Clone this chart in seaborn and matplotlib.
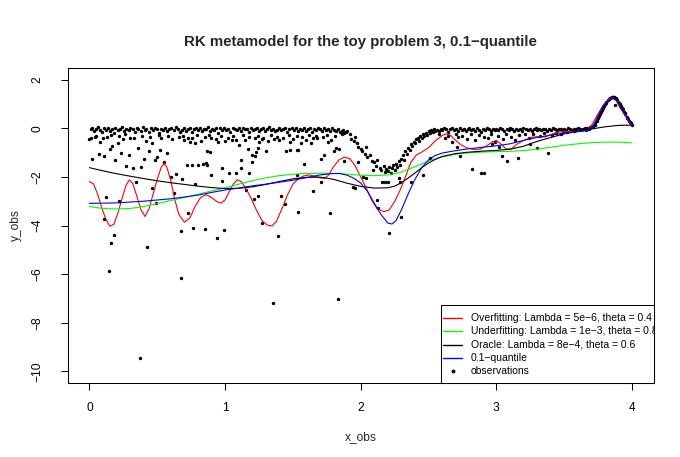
import numpy as np
import pandas as pd
import matplotlib
matplotlib.use("Agg")
import matplotlib.pyplot as plt
import seaborn as sns
from matplotlib.lines import Line2D
from matplotlib.patches import Rectangle

# ---------------- curves ----------------
oracle_x = [0.0,0.1,0.2,0.3,0.4,0.5,0.6,0.7,0.8,0.9,1.0,1.1,1.2,1.3,1.4,1.5,1.6,1.7,1.8,1.9,2.0,2.1,2.2,2.25,2.3,2.35,2.4,2.45,2.5,2.55,2.6,2.7,2.8,2.9,3.0,3.1,3.2,3.3,3.4,3.5,3.6,3.7,3.8,3.9,4.0]
oracle_y = [-1.62,-1.75,-1.87,-1.97,-2.07,-2.16,-2.24,-2.31,-2.38,-2.44,-2.48,-2.47,-2.41,-2.31,-2.19,-2.08,-2.02,-2.01,-2.10,-2.26,-2.39,-2.46,-2.45,-2.38,-2.24,-2.05,-1.84,-1.62,-1.43,-1.28,-1.16,-1.04,-0.98,-0.94,-0.91,-0.86,-0.74,-0.54,-0.38,-0.23,-0.12,-0.03,0.06,0.12,0.13]

under_x = [0.0,0.1,0.2,0.3,0.4,0.5,0.6,0.7,0.8,0.9,1.0,1.1,1.2,1.3,1.4,1.5,1.6,1.7,1.8,1.9,2.0,2.1,2.2,2.3,2.4,2.5,2.6,2.7,2.8,2.9,3.0,3.1,3.2,3.3,3.4,3.5,3.6,3.7,3.8,3.9,4.0]
under_y = [-3.22,-3.30,-3.32,-3.30,-3.22,-3.10,-2.97,-2.85,-2.72,-2.58,-2.45,-2.30,-2.16,-2.04,-1.95,-1.89,-1.86,-1.85,-1.86,-1.89,-1.93,-1.95,-1.92,-1.80,-1.58,-1.35,-1.18,-1.07,-1.01,-0.98,-0.96,-0.95,-0.92,-0.86,-0.78,-0.70,-0.64,-0.59,-0.57,-0.57,-0.60]

quant_x = [0.0,0.2,0.4,0.5,0.6,0.7,0.8,0.9,1.0,1.1,1.2,1.3,1.4,1.5,1.6,1.7,1.8,1.85,1.9,1.95,2.0,2.05,2.1,2.15,2.2,2.23,2.26,2.3,2.35,2.4,2.45,2.5,2.55,2.6,2.7,2.8,2.9,3.0,3.1,3.2,3.3,3.4,3.5,3.6,3.67,3.7,3.72,3.74,3.76,3.78,3.81,3.84,3.86,3.88,3.9,3.92,3.94,3.96,3.98,4.0]
quant_y = [-3.09,-3.07,-3.00,-2.95,-2.90,-2.83,-2.75,-2.64,-2.54,-2.46,-2.37,-2.30,-2.22,-2.14,-2.03,-1.92,-1.86,-1.86,-1.93,-2.06,-2.25,-2.60,-3.08,-3.55,-3.90,-3.94,-3.80,-3.36,-2.70,-2.10,-1.62,-1.30,-1.12,-1.02,-0.92,-0.84,-0.78,-0.72,-0.64,-0.50,-0.38,-0.28,-0.20,-0.14,-0.09,0.03,0.14,0.40,0.62,0.85,1.08,1.20,1.22,1.18,1.05,0.82,0.64,0.48,0.30,0.12]

over_x = [0.0,0.03,0.06,0.09,0.12,0.15,0.18,0.21,0.24,0.27,0.295,0.32,0.35,0.38,0.41,0.44,0.47,0.50,0.53,0.55,0.57,0.60,0.63,0.66,0.70,0.74,0.78,0.82,0.86,0.90,0.94,0.97,1.00,1.03,1.06,1.09,1.12,1.15,1.19,1.23,1.27,1.31,1.345,1.38,1.42,1.46,1.50,1.54,1.58,1.62,1.66,1.70,1.73,1.76,1.80,1.84,1.88,1.92,1.96,2.00,2.04,2.08,2.12,2.17,2.21,2.25,2.29,2.33,2.37,2.41,2.45,2.50,2.55,2.60,2.63,2.66,2.70,2.74,2.78,2.83,2.88,2.93,2.97,3.00,3.03,3.07,3.11,3.15,3.20,3.26,3.31,3.36,3.42,3.48,3.55,3.63,3.68,3.71,3.75,3.79,3.83,3.85,3.88,3.91,3.95,3.98,4.0]
over_y = [-2.20,-2.28,-2.70,-3.25,-3.72,-4.03,-3.95,-3.50,-2.90,-2.35,-2.12,-2.28,-2.80,-3.35,-3.63,-3.30,-2.70,-2.10,-1.60,-1.46,-1.58,-2.15,-2.95,-3.55,-3.86,-3.70,-3.20,-2.85,-2.73,-2.85,-3.02,-3.08,-2.95,-2.62,-2.30,-2.12,-2.20,-2.45,-2.85,-3.35,-3.78,-3.98,-4.02,-3.82,-3.30,-2.75,-2.30,-2.08,-1.96,-1.92,-1.97,-2.04,-2.06,-1.95,-1.58,-1.30,-1.19,-1.25,-1.55,-2.00,-2.45,-2.95,-3.30,-3.43,-3.36,-3.02,-2.55,-2.00,-1.40,-1.10,-0.98,-0.80,-0.52,-0.30,-0.23,-0.28,-0.50,-0.68,-0.80,-0.87,-0.86,-0.72,-0.56,-0.50,-0.63,-0.84,-0.86,-0.66,-0.50,-0.37,-0.34,-0.36,-0.22,-0.14,-0.14,-0.13,-0.04,0.20,0.60,0.97,1.20,1.25,1.18,0.85,0.52,0.25,0.06]

# ---------------- observations (x, y) ----------------
band_left = [(0.01,-0.05),(0.02,0.02),(0.035,-0.12),(0.05,-0.03),(0.06,0.04),(0.08,-0.08),(0.09,-0.15),(0.105,0.00),(0.12,-0.06),(0.135,0.03),(0.15,-0.10),(0.165,-0.02),(0.18,-0.18),(0.19,0.01),(0.21,-0.07),(0.225,-0.04),(0.24,0.05),(0.255,-0.13),(0.27,-0.01),(0.29,-0.09),(0.30,0.02),(0.32,-0.05),(0.335,-0.16),(0.35,0.00),(0.36,-0.03),(0.38,-0.11),(0.395,0.04),(0.41,-0.06),(0.42,-0.02),(0.44,-0.14),(0.455,0.01),(0.47,-0.08),(0.485,0.03),(0.50,-0.04),(0.515,-0.20),(0.53,-0.01),(0.545,-0.07),(0.56,0.02),(0.575,-0.12),(0.59,-0.05),(0.605,0.00),(0.62,-0.09),(0.635,0.04),(0.65,-0.03),(0.665,-0.15),(0.68,-0.06),(0.695,0.01),(0.71,-0.10),(0.725,-0.02),(0.74,0.03),(0.755,-0.17),(0.77,-0.04),(0.785,0.00),(0.80,-0.08),(0.815,0.02),(0.83,-0.13),(0.845,-0.05),(0.86,-0.01),(0.875,0.04),(0.89,-0.11),(0.905,-0.03),(0.92,-0.07),(0.935,0.01),(0.95,-0.19),(0.965,0.00),(0.98,-0.06),(0.995,0.03),(1.01,-0.09),(1.025,-0.02),(1.04,-0.14),(1.055,0.02),(1.07,-0.04),(1.085,-0.08),(1.10,0.00),(1.115,-0.12),(1.13,0.03),(1.145,-0.05),(1.16,-0.01),(1.175,-0.16),(1.19,0.01),(1.205,-0.07),(1.22,-0.03),(1.235,0.02),(1.25,-0.10),(1.265,-0.05),(1.28,0.00),(1.295,-0.13),(1.31,-0.02),(1.325,0.04),(1.34,-0.08),(1.355,-0.04),(1.37,-0.11),(1.385,-0.06),(1.40,0.01),(1.415,-0.09),(1.43,-0.03),(1.445,0.02),(1.46,-0.14),(1.475,-0.05),(1.49,0.00),(1.505,-0.08),(1.52,0.03),(1.535,-0.12),(1.55,-0.02),(1.565,-0.06),(1.58,0.01),(1.595,-0.10),(1.61,-0.04),(1.625,0.02),(1.64,-0.15),(1.655,-0.01),(1.67,-0.07),(1.685,0.03),(1.70,-0.05),(1.715,-0.11),(1.73,0.00),(1.745,-0.08),(1.76,-0.03),(1.775,-0.13),(1.79,0.01),(1.805,-0.06),(1.82,-0.10),(1.835,-0.04),(1.85,-0.14),(1.87,-0.09),(1.89,-0.16)]

band_right = [(2.56,-0.06),(2.575,-0.12),(2.59,-0.02),(2.60,-0.08),(2.615,0.00),(2.63,-0.05),(2.645,-0.14),(2.66,-0.03),(2.675,0.01),(2.69,-0.09),(2.70,-0.04),(2.715,-0.11),(2.73,0.00),(2.745,-0.06),(2.76,-0.02),(2.775,-0.13),(2.79,-0.05),(2.80,0.01),(2.815,-0.08),(2.83,-0.03),(2.845,-0.10),(2.86,0.00),(2.875,-0.06),(2.89,-0.15),(2.90,-0.02),(2.915,-0.07),(2.93,0.01),(2.945,-0.04),(2.96,-0.11),(2.975,-0.01),(2.99,-0.06),(3.00,-0.03),(3.015,-0.09),(3.03,0.00),(3.045,-0.05),(3.06,-0.12),(3.075,-0.02),(3.09,-0.07),(3.10,0.01),(3.115,-0.04),(3.13,-0.10),(3.145,-0.01),(3.16,-0.06),(3.175,-0.03),(3.19,-0.13),(3.20,0.00),(3.215,-0.05),(3.23,-0.08),(3.245,-0.02),(3.26,-0.11),(3.275,-0.04),(3.29,0.01),(3.30,-0.07),(3.315,-0.03),(3.33,-0.09),(3.345,-0.01),(3.36,-0.05),(3.375,-0.12),(3.39,-0.02),(3.40,-0.06),(3.415,0.00),(3.43,-0.04),(3.445,-0.08),(3.46,-0.01),(3.475,-0.05),(3.49,-0.10),(3.50,-0.02),(3.515,-0.06),(3.53,0.00),(3.545,-0.04),(3.56,-0.07),(3.575,-0.02),(3.59,-0.05),(3.60,0.01),(3.615,-0.03),
              (2.58,-0.25),(2.62,-0.40),(2.64,-0.30),(2.67,-0.55),(2.70,-0.22),(2.72,-0.35),(2.75,-0.30),(2.78,-0.45),(2.81,-0.22),(2.84,-0.50),(2.87,-0.28),(2.91,-0.35),(2.94,-0.42),(2.96,-0.22),(2.99,-0.55),(3.01,-0.30),(3.05,-0.45),(3.07,-0.25),(3.11,-0.35),(3.14,-0.50),(3.17,-0.28),(3.21,-0.22),(3.24,-0.40),(3.27,-0.25),(3.32,-0.30),(3.35,-0.20),(3.41,-0.28),(3.44,-0.18),(3.48,-0.22),(3.52,-0.15),(3.57,-0.12),
              (2.71,-0.78),(2.73,-1.16),(2.82,-1.69),(2.89,-1.82),(2.91,-1.86),(3.04,-1.16),(3.08,-1.34),(3.16,-1.23),(3.30,-0.82),(3.38,-1.02),(3.02,-0.78),(2.97,-0.65),(3.25,-0.65)]

dip = [(1.86,-0.12),(1.88,-0.18),(1.90,-0.10),(1.92,-0.22),(1.93,-0.45),(1.95,-0.52),(1.96,-0.35),(1.97,-0.60),(1.98,-0.75),(2.00,-0.85),(2.01,-0.95),(2.03,-1.05),(2.04,-0.78),(2.05,-1.20),(2.07,-1.10),(2.08,-1.35),(2.10,-1.40),(2.11,-1.55),(2.12,-1.30),(2.14,-1.62),(2.15,-1.72),(2.17,-1.55),(2.18,-1.80),(2.19,-1.68),(2.20,-1.75),(2.21,-1.60),(2.22,-1.85),(2.23,-1.65),(2.24,-1.52),(2.25,-1.70),(2.26,-1.45),(2.27,-1.58),(2.28,-1.35),(2.29,-1.50),(2.30,-1.25),(2.31,-1.10),(2.32,-1.30),(2.33,-0.95),(2.34,-1.05),(2.35,-0.80),(2.36,-0.90),(2.37,-0.65),(2.38,-0.72),(2.39,-0.55),(2.40,-0.60),(2.41,-0.45),(2.42,-0.38),(2.43,-0.52),(2.44,-0.30),(2.45,-0.40),(2.46,-0.25),(2.47,-0.33),(2.48,-0.18),(2.49,-0.28),(2.50,-0.12),(2.51,-0.20),(2.52,-0.08),(2.53,-0.15),(2.54,-0.05),(2.55,-0.10),
       (1.94,-2.40),(2.04,-2.06),(2.09,-1.72),(2.12,-2.95),(2.13,-3.29),(2.16,-2.19),(2.18,-2.19),(2.20,-2.19),(2.21,-4.32),(2.28,-2.06),(2.29,-2.19),(2.30,-3.64),(2.37,-2.19),(2.46,-1.92),(2.51,-1.23),(1.98,-1.40),(1.96,-2.47),(2.02,-1.99)]

scatter_mid = [(0.00,-0.45),(0.01,-0.40),(0.02,-1.26),(0.05,-0.30),(0.07,-1.05),(0.08,-0.55),(0.11,-1.13),(0.13,-0.35),(0.15,-0.85),(0.17,-0.72),(0.19,-1.30),(0.21,-0.60),(0.23,-1.00),(0.25,-0.45),(0.27,-1.55),(0.29,-1.08),(0.30,-0.38),(0.32,-1.62),(0.36,-0.80),(0.38,-1.58),(0.40,-1.28),(0.42,-0.52),(0.44,-0.95),(0.46,-0.62),(0.48,-1.30),(0.50,-1.18),(0.52,-0.90),(0.53,-0.42),(0.55,-1.40),(0.57,-1.02),(0.60,-2.00),(0.64,-1.88),(0.66,-0.35),(0.68,-2.08),(0.70,-0.48),(0.72,-1.52),(0.74,-0.55),(0.76,-0.42),(0.78,-0.60),(0.80,-1.50),(0.82,-0.52),(0.84,-1.45),(0.87,-0.95),(0.90,-0.42),(0.93,-0.45),(0.95,-0.55),(0.98,-1.65),(1.00,-0.52),(1.03,-1.85),(1.05,-0.50),(1.08,-0.47),(1.10,-0.68),(1.12,-1.30),(1.15,-0.50),(1.17,-0.85),(1.20,-1.10),(1.22,-0.40),(1.25,-0.55),(1.28,-0.38),(1.30,-0.95),(1.32,-0.52),(1.36,-0.45),(1.40,-0.48),(1.45,-0.95),(1.48,-0.55),(1.50,-0.45),(1.54,-0.88),(1.56,-0.60),(1.58,-1.45),(1.60,-0.50),(1.63,-0.62),(1.65,-0.38),(1.68,-0.42),(1.71,-1.25),(1.73,-1.10),(1.76,-0.55),(1.78,-0.48),(1.80,-0.95),(1.82,-0.82),(1.84,-0.86),(1.88,-1.33),
               (0.04,-0.35),(0.10,-0.42),(0.16,-0.28),(0.22,-0.33),(0.26,-0.25),(0.33,-0.40),(0.39,-0.30),(0.45,-0.36),(0.51,-0.28),(0.58,-0.32),(0.61,-0.45),(0.69,-0.30),(0.73,-0.38),(0.79,-0.26),(0.85,-0.35),(0.88,-0.28),(0.97,-0.33),(1.02,-0.40),(1.06,-0.30),(1.13,-0.26),(1.18,-0.35),(1.24,-0.30),(1.27,-0.45),(1.34,-0.28),(1.38,-0.34),(1.43,-0.40),(1.47,-0.27),(1.53,-0.33),(1.57,-0.36),(1.62,-0.28),(1.67,-0.30),(1.72,-0.37),(1.75,-0.26),(1.81,-0.33),(1.86,-0.25),
               (0.76,-1.51),(0.86,-1.44),(0.87,-1.51),(0.89,-0.98),(1.20,-1.37),(1.22,-1.13),(1.23,-0.98),(1.24,-0.82),(1.48,-0.91),(1.53,-0.89),(0.90,-1.92),(0.98,-2.17),(1.08,-1.85),(1.12,-1.64),(1.18,-1.82),(1.53,-1.92),(0.78,-2.30)]

scatter_low = [(0.12,-2.84),(0.11,-3.74),(0.185,-4.38),(0.157,-4.72),(0.22,-2.98),(0.344,-2.23),(0.426,-4.90),(0.46,-2.47),(0.49,-3.09),(0.627,-2.67),(0.674,-4.23),(0.726,-3.50),(0.763,-4.12),(0.849,-4.14),(0.94,-4.50),(0.99,-4.20),(1.156,-2.54),(1.21,-2.91),(1.242,-2.77),(1.272,-3.91),(1.39,-4.45),(1.415,-2.78),(1.44,-3.13),(1.538,-3.43),(1.648,-2.56),(1.71,-2.23),(1.776,-3.47)]

outliers = [(0.143,-5.89),(0.677,-6.14),(1.35,-7.20),(1.83,-7.03),(0.376,-9.44)]

peak = [(3.62,-0.02),(3.64,-0.04),(3.65,0.00),(3.66,-0.06),(3.67,0.02),(3.68,-0.03),(3.69,0.05),(3.70,0.04),(3.71,0.10),(3.72,0.15),(3.725,0.12),(3.73,0.22),(3.74,0.30),(3.745,0.35),(3.75,0.42),(3.76,0.52),(3.765,0.58),(3.77,0.65),(3.78,0.75),(3.785,0.82),(3.79,0.90),(3.80,0.98),(3.805,1.02),(3.81,1.08),(3.82,1.15),(3.83,1.20),(3.835,1.24),(3.84,1.26),(3.85,1.29),(3.855,1.30),(3.86,1.30),(3.865,1.28),(3.87,1.27),(3.875,0.94),(3.88,1.24),(3.885,1.20),(3.89,1.17),(3.90,1.10),(3.905,1.05),(3.91,1.00),(3.92,0.90),(3.925,0.85),(3.93,0.78),(3.94,0.68),(3.945,0.64),(3.95,0.58),(3.96,0.48),(3.965,0.44),(3.97,0.38),(3.98,0.30),(3.985,0.25),(3.99,0.20),(4.00,0.14),(3.995,0.16)]

title = "RK metamodel for the toy problem 3, 0.1\u2212quantile"
legend_labels = ["Overfitting: Lambda = 5e\u22126, theta = 0.4",
                 "Underfitting: Lambda = 1e\u22123, theta = 0.8",
                 "Oracle: Lambda = 8e\u22124, theta = 0.6",
                 "0.1\u2212quantile",
                 "observations"]
legend_colors = ["#ff0000", "#00ff00", "#000000", "#0000ff", "#000000"]
x_ticks = [0, 1, 2, 3, 4]
y_ticks = [-10, -8, -6, -4, -2, 0, 2]

# ---------------- plotting ----------------
sns.set_theme(style="ticks")
plt.rcParams['font.family'] = ['Liberation Sans', 'DejaVu Sans']
plt.rcParams['axes.unicode_minus'] = True

obs = pd.DataFrame(band_left + band_right + dip + scatter_mid + scatter_low + outliers + peak,
                   columns=["x_obs", "y_obs"])

W, H = 680, 457
AX_L, AX_R, AX_T, AX_B = 67.7, 653.7, 68.0, 383.0
fig = plt.figure(figsize=(W/100, H/100), dpi=100)
fig.patch.set_facecolor("white")
ax = fig.add_axes([AX_L/W, (H-AX_B)/H, (AX_R-AX_L)/W, (AX_B-AX_T)/H])
ax.set_facecolor("white")
axw, axh = AX_R - AX_L, AX_B - AX_T

def ax_x(px):
    return (px - AX_L) / axw

def ax_y(py):
    return (AX_B - py) / axh

sns.scatterplot(data=obs, x="x_obs", y="y_obs", ax=ax, color="black", s=6,
                linewidth=0, marker="o", zorder=2)

curves = [(over_x, over_y, legend_colors[0]), (under_x, under_y, legend_colors[1]),
          (oracle_x, oracle_y, legend_colors[2]), (quant_x, quant_y, legend_colors[3])]
for cx, cy, col in curves:
    sns.lineplot(x=cx, y=cy, ax=ax, color=col, linewidth=0.8, sort=False,
                 estimator=None, zorder=3)

ax.set_xlim(-0.16, 4.16)
ax.set_ylim(-10.48, 2.48)
ax.set_xticks(x_ticks)
ax.set_yticks(y_ticks)
ax.set_xticklabels([str(v) for v in x_ticks])
ax.set_yticklabels([str(v).replace("-", "\u2212") for v in y_ticks], rotation=90, va="center")

for sp in ax.spines.values():
    sp.set_visible(True)
    sp.set_color("black")
    sp.set_linewidth(0.75)
ax.tick_params(axis="both", direction="out", length=5.2, width=0.75, colors="black",
               labelsize=8.64)
ax.tick_params(axis="x", pad=8.5)
ax.tick_params(axis="y", pad=12)

ax.set_xlabel("x_obs", fontsize=8.64, labelpad=12)
ax.set_ylabel("y_obs", fontsize=8.64, labelpad=7)
ax.set_title(title, fontsize=10.8, fontweight="bold", pad=15.5)

# legend box (R style, anchored bottom-right, text clipped by plot region)
LG_L, LG_T = 441.0, 305.0
ax.add_patch(Rectangle((ax_x(LG_L), 0), 1 - ax_x(LG_L), ax_y(LG_T),
                       transform=ax.transAxes, facecolor="white", edgecolor="black",
                       linewidth=0.75, zorder=4, clip_on=False))
row0, row_step = 318.0, 13.25
for i, (lab, col) in enumerate(zip(legend_labels, legend_colors)):
    yy = ax_y(row0 + i * row_step)
    if i < 4:
        ax.add_line(Line2D([ax_x(443), ax_x(462)], [yy, yy], transform=ax.transAxes,
                           color=col, lw=1.0, zorder=6, clip_on=False))
    else:
        ax.add_line(Line2D([ax_x(452.5)], [yy], transform=ax.transAxes, color=col,
                           marker="o", ls="none", markersize=2.8, markeredgewidth=0,
                           zorder=6, clip_on=False))
    ax.text(ax_x(471), yy, lab, transform=ax.transAxes, fontsize=7.5, va="center",
            ha="left", color="black", zorder=6, clip_on=True)

fig.savefig("out.png", dpi=100, facecolor="white")
